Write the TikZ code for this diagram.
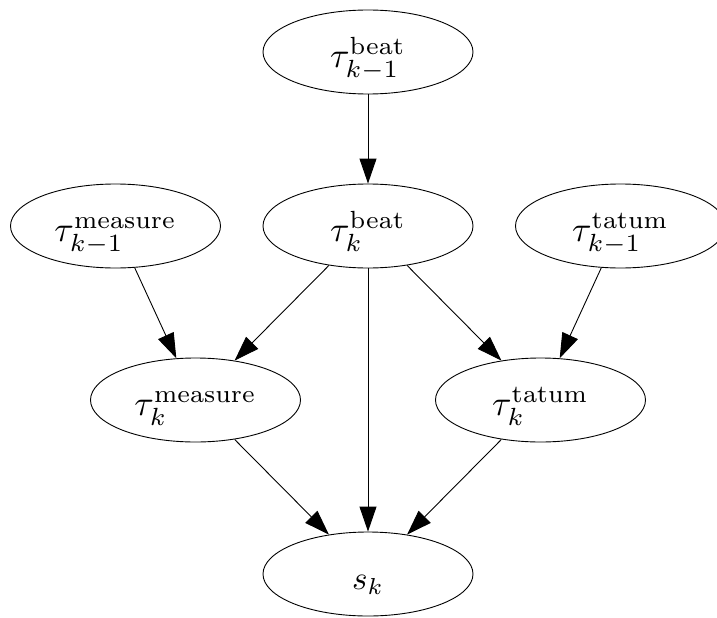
\documentclass[tikz,border=0pt]{standalone}
\usepackage{graphicx}
\usetikzlibrary{arrows.meta,shapes.geometric}
\newcommand{\lbl}[2]{\scalebox{3.55}{$\tau_{#1}^{\mathrm{#2}}$}}
\begin{document}
\begin{tikzpicture}[x=1pt,y=-1pt,
  var/.style={draw,ellipse,minimum width=210pt,minimum height=84pt,inner sep=0pt,line width=0.9pt,text height=31pt,text depth=0pt},
  edge/.style={line width=0.9pt,-{Triangle[length=25pt,width=17pt]}}]
\useasboundingbox (0,0) rectangle (717,618);
\node[var] (bprev) at (368,52) {\lbl{k-1}{beat}};
\node[var] (mprev) at (115.5,226) {\lbl{k-1}{measure}};
\node[var] (b) at (368,226) {\lbl{k}{beat}};
\node[var] (tprev) at (620.5,226) {\lbl{k-1}{tatum}};
\node[var] (m) at (195.5,400) {\lbl{k}{measure}};
\node[var] (t) at (540.5,400) {\lbl{k}{tatum}};
\node[var] (s) at (368,574) {\scalebox{3.3}{$s_k$}};
\draw[edge] (bprev) -- (b);
\draw[edge] (mprev) -- (m);
\draw[edge] (b) -- (m);
\draw[edge] (b) -- (t);
\draw[edge] (tprev) -- (t);
\draw[edge] (b) -- (s);
\draw[edge] (m) -- (s);
\draw[edge] (t) -- (s);
\end{tikzpicture}
\end{document}
